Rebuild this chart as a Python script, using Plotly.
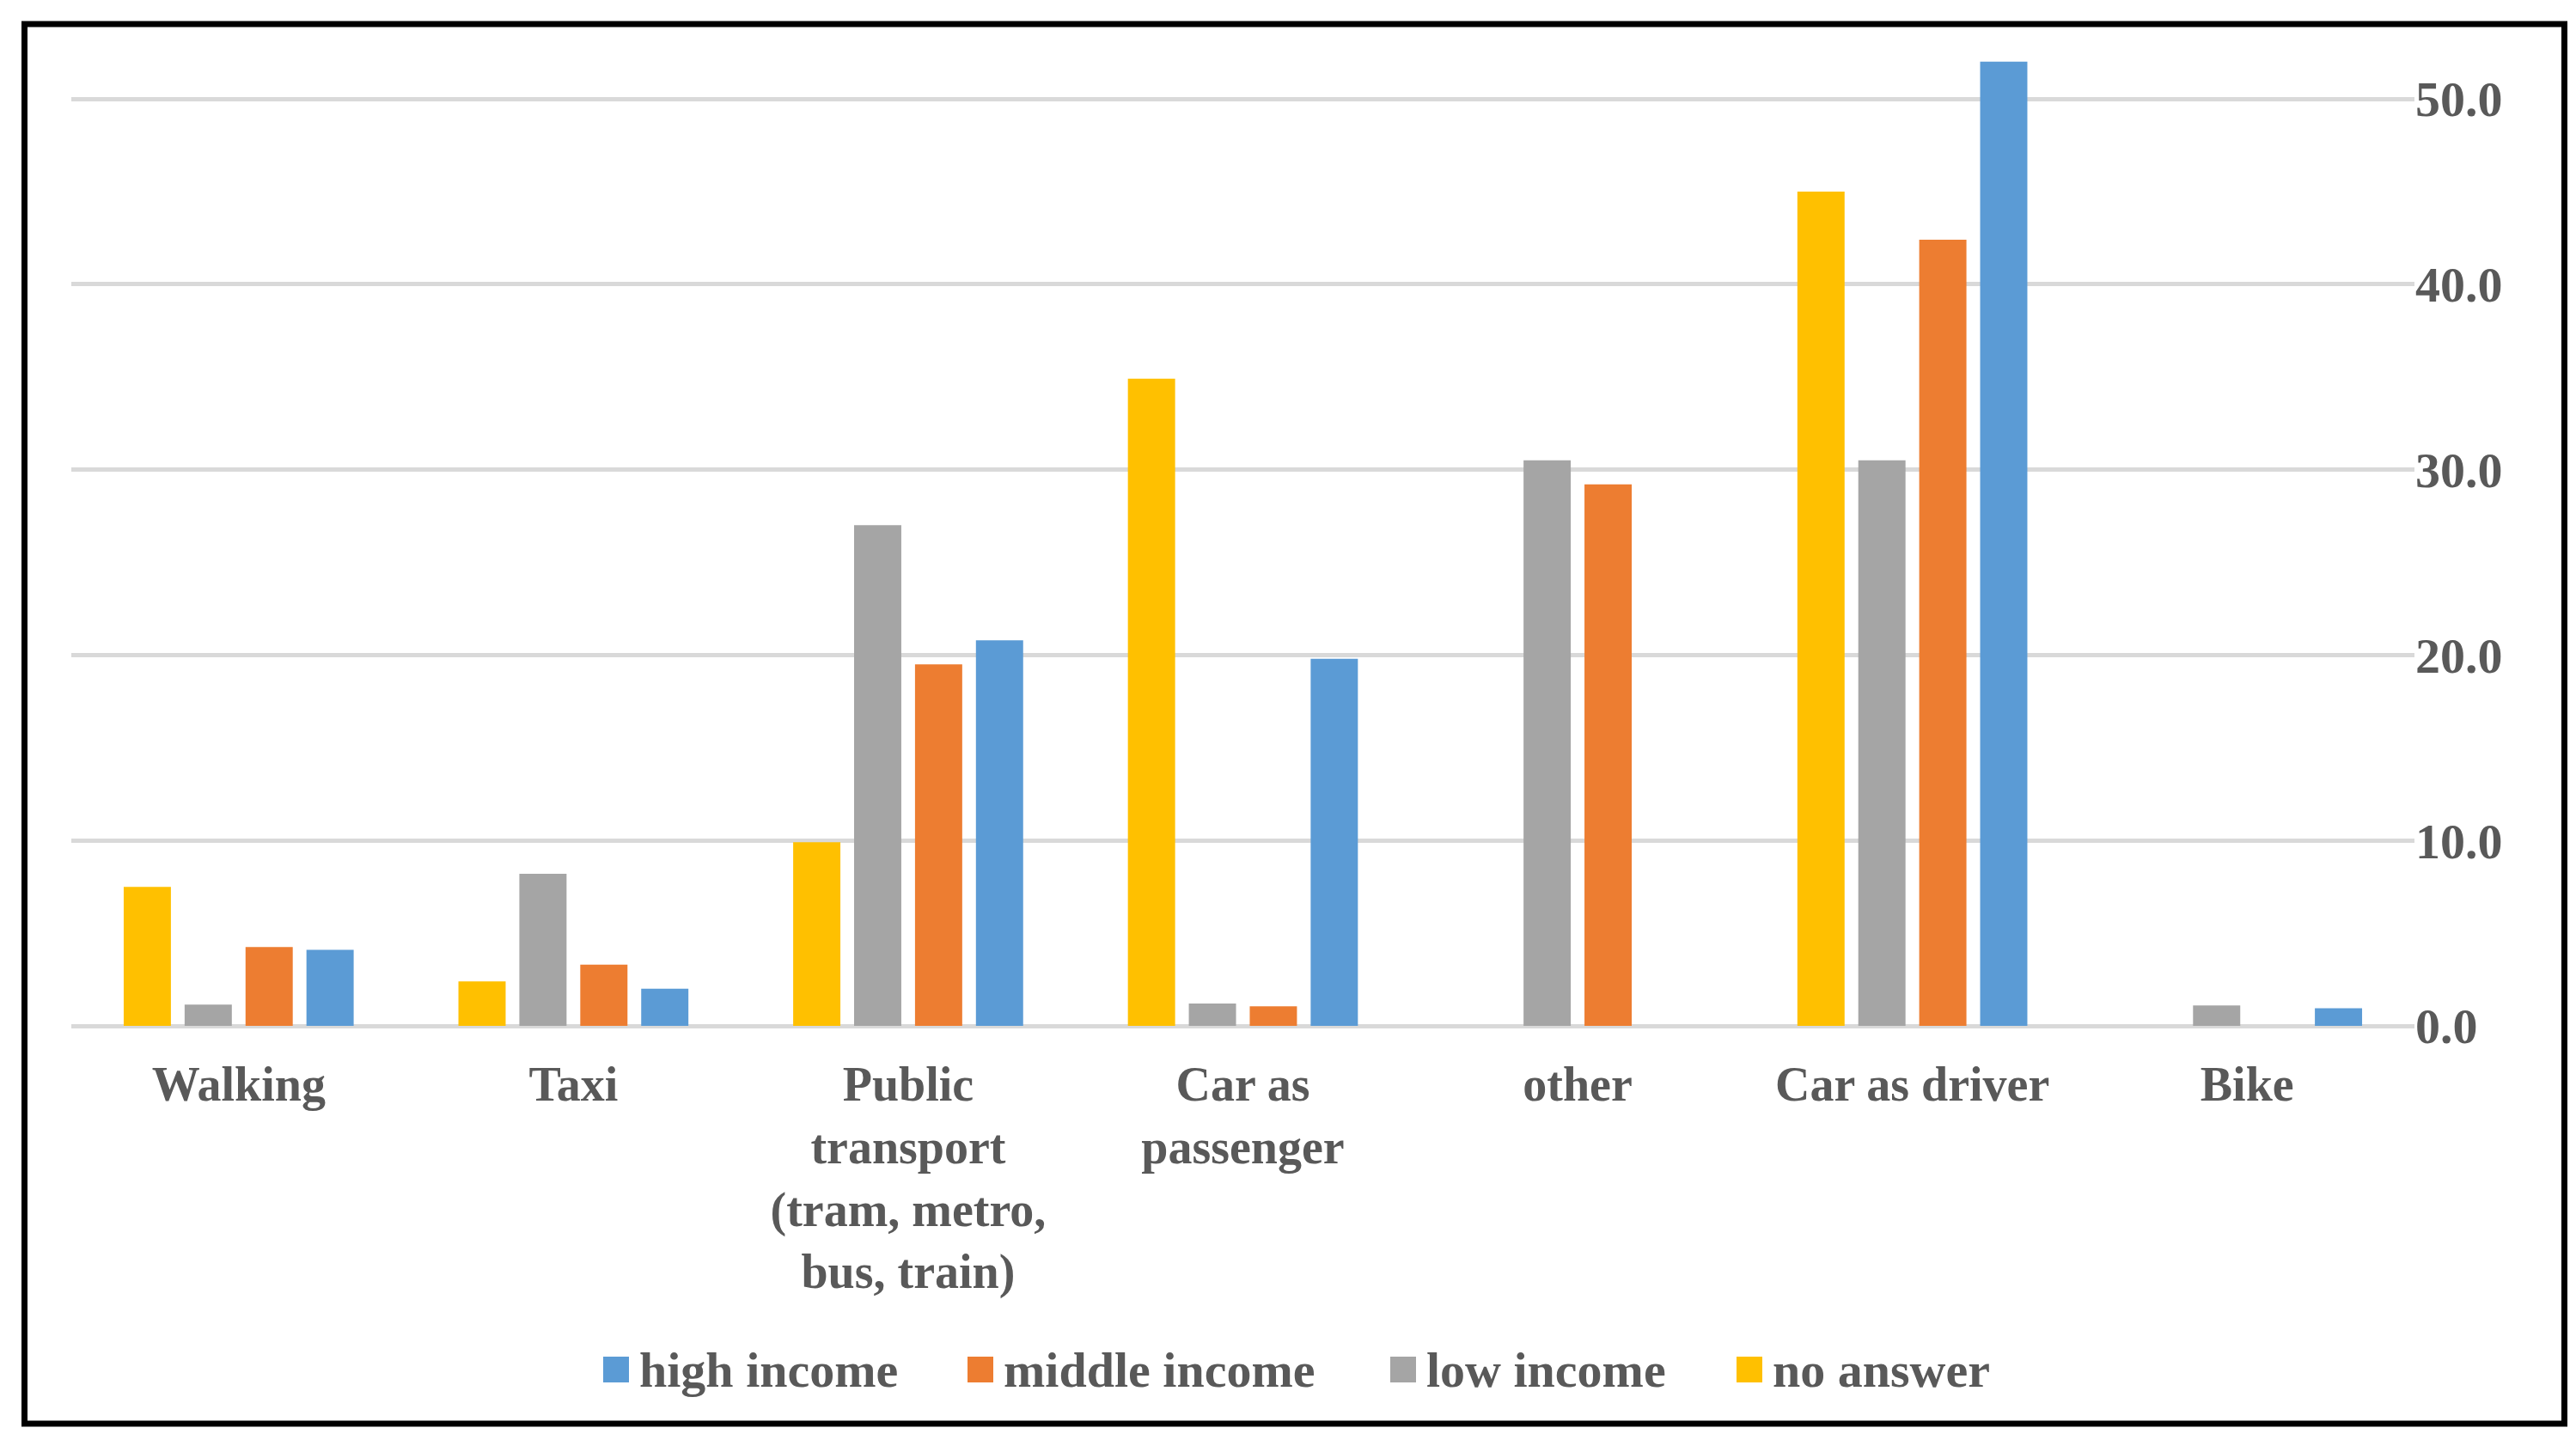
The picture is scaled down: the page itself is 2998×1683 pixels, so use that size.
import plotly.graph_objects as go

# ---- data ----
categories = ["Walking", "Taxi", "Public<br>transport<br>(tram, metro,<br>bus, train)",
              "Car as<br>passenger", "other", "Car as driver", "Bike"]
no_answer = [7.5, 2.4, 9.9, 34.9, 0, 45.0, 0]
low_income = [1.15, 8.2, 27.0, 1.2, 30.5, 30.5, 1.1]
middle_income = [4.25, 3.3, 19.5, 1.05, 29.2, 42.4, 0]
high_income = [4.1, 2.0, 20.8, 19.8, 0, 52.0, 0.95]

series_names = ["no answer", "low income", "middle income", "high income"]
series_values = [no_answer, low_income, middle_income, high_income]
series_colors = ["#FFC000", "#A5A5A5", "#ED7D31", "#5B9BD5"]

# legend order (as shown in the reference)
legend_order = ["high income", "middle income", "low income", "no answer"]

# ---- layout geometry (pixels) ----
W, H = 2998, 1683
ML, MR, MT, MB = 75, 196, 40, 497
TEXT_COLOR = "#595959"
FAMILY = "Liberation Serif, Times New Roman, serif"
FONT = dict(family=FAMILY, size=58, color=TEXT_COLOR, weight="bold")
XFONT = dict(family=FAMILY, size=56, color=TEXT_COLOR, weight="bold")

pw = W - ML - MR
ph = H - MT - MB


def px_x(p):
    return (p - ML) / pw


def px_y(p):
    return (H - MB - p) / ph


fig = go.Figure()
for name, vals, col in zip(series_names, series_values, series_colors):
    fig.add_trace(go.Bar(x=categories, y=vals, name=name, marker_color=col,
                         marker_line_width=0, showlegend=False))

# manual legend (large square keys like the reference)
legend_key_x = [694, 1118, 1610, 2013]
key_size = 30
legend_cy = 1586
shapes = []
annotations = []
color_of = dict(zip(series_names, series_colors))
for name, kx in zip(legend_order, legend_key_x):
    shapes.append(dict(type="rect", xref="paper", yref="paper",
                       x0=px_x(kx), x1=px_x(kx + key_size),
                       y0=px_y(legend_cy + key_size / 2), y1=px_y(legend_cy - key_size / 2),
                       fillcolor=color_of[name], line=dict(width=0)))
    annotations.append(dict(text=name, xref="paper", yref="paper",
                            x=px_x(kx + key_size + 10), y=px_y(legend_cy),
                            xanchor="left", yanchor="middle", showarrow=False,
                            font=FONT))

# outer black frame
shapes.append(dict(type="rect", xref="paper", yref="paper",
                   x0=px_x(20.5), x1=px_x(2976.5), y0=px_y(1649), y1=px_y(20),
                   line=dict(color="black", width=7), fillcolor="rgba(0,0,0,0)",
                   layer="above"))

fig.update_layout(
    width=W, height=H,
    margin=dict(l=ML, r=MR, t=MT, b=MB, autoexpand=False),
    paper_bgcolor="white", plot_bgcolor="white",
    barmode="group", bargap=0.272, bargroupgap=0.225,
    font=FONT,
    showlegend=False,
    xaxis=dict(showgrid=False, showline=False, ticks="", tickfont=XFONT,
               ticklabelstandoff=30, zeroline=False, automargin=False),
    yaxis=dict(side="right", range=[0, ph / 21.58], tickvals=[0, 10, 20, 30, 40, 50],
               tickformat=".1f",
               showgrid=True, gridcolor="#D9D9D9", gridwidth=5,
               zeroline=True, zerolinecolor="#D9D9D9", zerolinewidth=5,
               showline=False, ticks="", tickfont=FONT, ticklabelstandoff=0,
               automargin=False),
    shapes=shapes,
    annotations=annotations,
)

fig.write_html("out.html")
